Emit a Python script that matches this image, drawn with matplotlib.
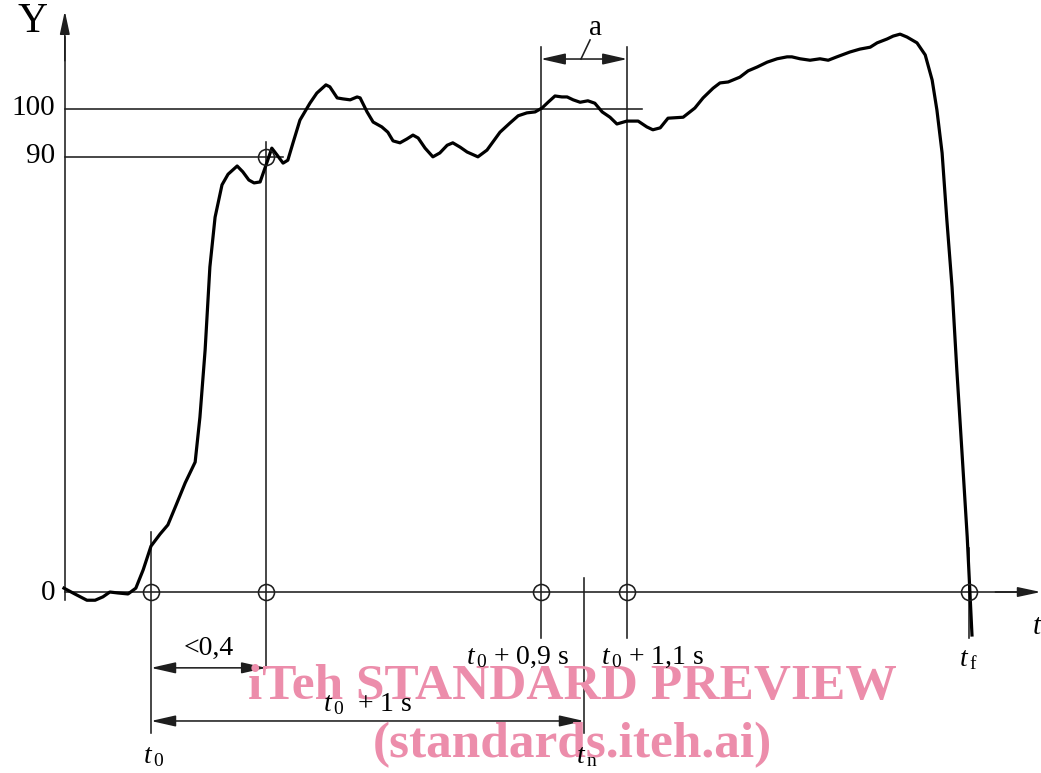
import matplotlib
matplotlib.use("Agg")
from matplotlib import pyplot as plt

# fonts
plt.rcParams['font.family'] = ['Liberation Serif', 'DejaVu Serif']
plt.rcParams['mathtext.fontset'] = 'custom'
plt.rcParams['mathtext.rm'] = 'Liberation Serif'
plt.rcParams['mathtext.it'] = 'Liberation Serif:italic'

# curve data (time in s from t0, Y in %)
t = [-0.201, -0.176, -0.148, -0.129, -0.111, -0.095, -0.076, -0.053, -0.035, -0.018,
     0.000, 0.021, 0.039, 0.058, 0.079, 0.102, 0.113, 0.125, 0.136, 0.148,
     0.164, 0.178, 0.199, 0.212, 0.226, 0.238, 0.252, 0.268, 0.279, 0.291,
     0.305, 0.316, 0.328, 0.344, 0.367, 0.383, 0.404, 0.413, 0.430, 0.443,
     0.460, 0.476, 0.483, 0.499, 0.513, 0.533, 0.547, 0.559, 0.575, 0.591,
     0.605, 0.617, 0.633, 0.651, 0.667, 0.684, 0.697, 0.714, 0.730, 0.755,
     0.776, 0.806, 0.829, 0.848, 0.868, 0.887, 0.903, 0.917, 0.933, 0.949,
     0.961, 0.975, 0.991, 1.009, 1.025, 1.042, 1.060, 1.076, 1.099, 1.125,
     1.145, 1.159, 1.176, 1.194, 1.229, 1.256, 1.275, 1.298, 1.314, 1.333,
     1.360, 1.379, 1.400, 1.423, 1.446, 1.469, 1.480, 1.499, 1.522, 1.545,
     1.564, 1.584, 1.614, 1.637, 1.661, 1.677, 1.700, 1.714, 1.730, 1.746,
     1.769, 1.788, 1.804, 1.815, 1.827, 1.838, 1.850, 1.861, 1.873, 1.885,
     1.891, 1.896]
y = [0.8, -0.4, -1.7, -1.7, -1.0, 0.0, -0.2, -0.4, 0.8, 4.6,
     9.5, 12.0, 13.9, 18.0, 22.6, 26.9, 36.2, 50.1, 67.3, 77.6,
     84.3, 86.5, 88.2, 87.0, 85.3, 84.7, 84.9, 89.0, 91.9, 90.5,
     88.8, 89.4, 93.0, 97.7, 101.2, 103.3, 105.0, 104.6, 102.3, 102.1,
     101.9, 102.5, 102.3, 99.4, 97.3, 96.3, 95.2, 93.4, 93.0, 93.8,
     94.6, 94.0, 91.9, 90.1, 90.9, 92.5, 93.0, 92.1, 91.1, 90.1,
     91.5, 95.2, 97.1, 98.6, 99.2, 99.4, 100.2, 101.4, 102.7, 102.5,
     102.5, 101.9, 101.4, 101.7, 101.2, 99.4, 98.3, 96.9, 97.5, 97.5,
     96.3, 95.7, 96.1, 98.1, 98.3, 100.2, 102.3, 104.3, 105.4, 105.6,
     106.6, 107.9, 108.7, 109.7, 110.4, 110.8, 110.8, 110.4, 110.1, 110.4,
     110.1, 110.8, 111.8, 112.4, 112.8, 113.7, 114.5, 115.1, 115.5, 114.9,
     113.7, 111.2, 106.0, 99.8, 90.9, 77.0, 63.1, 46.0, 28.8, 11.4,
     0.4, -8.9]

# characteristic points
y_levels = [100, 90]
y_labels = ["100", "90", "0"]
t0 = 0.0
t90 = 0.266
t_win = [0.9, 1.1]
tn = 1.0
tf = 1.889
t_axis0 = -0.199

W, H = 1041, 773
fig = plt.figure(figsize=(W / 100, H / 100), dpi=100)
ax = fig.add_axes([0, 0, 1, 1])
ax.set_xlim(-0.3487, 2.0554)
ax.set_ylim(-37.47, 122.57)
ax.axis('off')

lc = '#1e1e1e'
lw = 1.15

# axes with arrows
ax.plot([t_axis0, t_axis0], [-1.7, 115], color=lc, lw=lw)
ax.annotate('', xy=(t_axis0, 120.3), xytext=(t_axis0, 110),
            arrowprops=dict(arrowstyle='-|>,head_length=0.7,head_width=0.15', color=lc, lw=lw,
                            mutation_scale=20, shrinkA=0, shrinkB=0))
ax.plot([t_axis0, 2.0], [0, 0], color=lc, lw=lw)
ax.annotate('', xy=(2.055, 0), xytext=(1.95, 0),
            arrowprops=dict(arrowstyle='-|>,head_length=0.7,head_width=0.15', color=lc, lw=lw,
                            mutation_scale=20, shrinkA=0, shrinkB=0))

# reference levels
ax.plot([t_axis0, 1.134], [y_levels[0], y_levels[0]], color=lc, lw=lw)
ax.plot([t_axis0, 0.305], [y_levels[1], y_levels[1]], color=lc, lw=lw)

# vertical marker lines
ax.plot([t90, t90], [93.2, -15.7], color=lc, lw=lw)
ax.plot([t0, t0], [12.4, -29.2], color=lc, lw=lw)
for tw in t_win:
    ax.plot([tw, tw], [112.8, -9.5], color=lc, lw=lw)
ax.plot([tn, tn], [2.9, -29.2], color=lc, lw=lw)
ax.plot([tf, tf], [9.1, -9.5], color=lc, lw=lw)

# curve
ax.plot(t, y, color='black', lw=2.3, solid_joinstyle='round', zorder=5)

# circles
ct = [t0, t90, t_win[0], t_win[1], tf, t90]
cy = [0, 0, 0, 0, 0, y_levels[1]]
ax.plot(ct, cy, 'o', ms=11.5, mfc='none', mec=lc, mew=1.15, zorder=6)

# dimension arrows
dim = dict(arrowstyle='<|-|>,head_length=0.75,head_width=0.17', color=lc, lw=lw,
           mutation_scale=20, shrinkA=0, shrinkB=0)
ax.annotate('', xy=(t90, -15.7), xytext=(t0, -15.7), arrowprops=dim)
ax.annotate('', xy=(tn, -26.7), xytext=(t0, -26.7), arrowprops=dim)
ax.annotate('', xy=(t_win[1], 110.35), xytext=(t_win[0], 110.35), arrowprops=dim)
# leader from "a"
ax.plot([1.014, 0.993], [114.3, 110.35], color=lc, lw=lw)

def ft(x, yy, s, **kw):
    fig.text(x / W, 1 - yy / H, s, **kw)

# watermark
wm = dict(color='#ec8dab', fontweight='bold', ha='center', va='center', zorder=0,
          family=['Liberation Serif'])
ft(572, 687, 'iTeh STANDARD PREVIEW', fontsize=37, **wm)
ft(572, 745, '(standards.iteh.ai)', fontsize=37, **wm)

# labels
ft(33, 22, 'Y', fontsize=30, ha='center', va='center')
ft(55, 108, y_labels[0], fontsize=21, ha='right', va='center')
ft(55, 156, y_labels[1], fontsize=21, ha='right', va='center')
ft(55, 593, y_labels[2], fontsize=21, ha='right', va='center')
ft(1043, 627, '$t$', fontsize=21, ha='right', va='center')
ft(209, 648, '<0,4', fontsize=20, ha='center', va='center')
ft(368, 704, r'$t_{\,0}$  + 1 s', fontsize=20, ha='center', va='center')
ft(518, 657, r'$t_{\,0}$ + 0,9 s', fontsize=20, ha='center', va='center')
ft(653, 657, r'$t_{\,0}$ + 1,1 s', fontsize=20, ha='center', va='center')
ft(154, 757, r'$t_{\,0}$', fontsize=20, ha='center', va='center')
ft(587, 757, r'$t_{\,\mathrm{n}}$', fontsize=20, ha='center', va='center')
ft(968, 660, r'$t_{\,\mathrm{f}}$', fontsize=20, ha='center', va='center')
ft(596, 28, 'a', fontsize=21, ha='center', va='center')

fig.savefig('out.png', dpi=100, facecolor='white')
